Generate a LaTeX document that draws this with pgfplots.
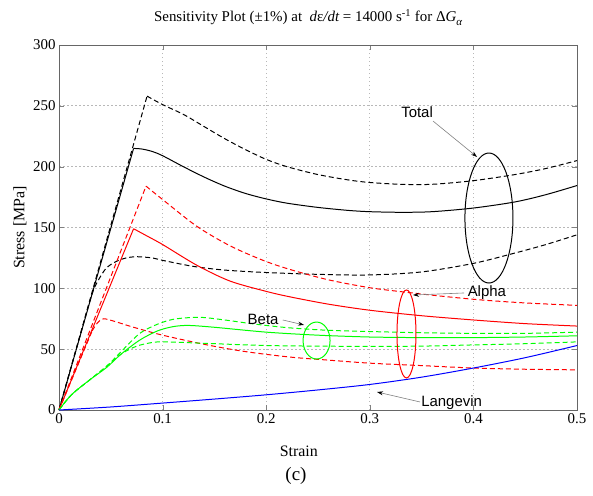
\documentclass[border=0pt]{standalone}
\usepackage{fontspec}
\setmainfont{Liberation Serif}
\newfontfamily\arial{Liberation Sans}
\usepackage{pgfplots}
\pgfplotsset{compat=1.18}
\usetikzlibrary{arrows.meta,calc}
\definecolor{mgreen}{RGB}{0,255,0}
\begin{document}
\begin{tikzpicture}
\begin{axis}[
  name=ax,
  scale only axis,
  width=518bp, height=365bp,
  xmin=0, xmax=0.5, ymin=0, ymax=300,
  xtick={0,0.1,0.2,0.3,0.4,0.5},
  xticklabels={0,0.1,0.2,0.3,0.4,0.5},
  ytick={0,50,100,150,200,250,300},
  /pgf/number format/assume math mode=true,
  tick label style={font=\fontsize{15}{17}\selectfont},
  tick align=inside, major tick length=5bp,
  xmajorgrids=true, ymajorgrids=true,
  major grid style={line width=1pt, black!28, dash pattern=on 1.5bp off 2.5bp},
  axis line style={gray!80!black, line width=0.6pt},
  title={Sensitivity Plot (±1\%) at \ {\itshape d}ε{\itshape /dt} = 14000 s\textsuperscript{-1} for Δ{\itshape G}\raisebox{-4bp}{\fontsize{11}{12}\selectfont\itshape α}},
  title style={at={(0.481,1)}, anchor=south, yshift=10bp, font=\fontsize{15}{17}\selectfont},
  xlabel={Strain},
  xlabel style={at={(axis description cs:0.463,-0.113)}, anchor=center, font=\fontsize{16}{18}\selectfont},
  clip=false,
  every axis plot/.append style={line width=1pt},
]
% Black (Total)
\addplot[black, dash pattern=on 5bp off 3bp] coordinates {(0,0) (0.085,258)};
\addplot[black, dash pattern=on 5bp off 3bp, smooth, tension=0.5] coordinates {(0.085,258) (0.1,251) (0.12,243) (0.14,233) (0.16,223) (0.18,214) (0.2,206) (0.22,200) (0.25,193.5) (0.28,189) (0.3,187) (0.33,185.5) (0.36,185.5) (0.4,188.5) (0.44,193.5) (0.47,198.5) (0.5,205)};
\addplot[black] coordinates {(0,0) (0.072,215)};
\addplot[black, smooth, tension=0.5] coordinates {(0.072,215) (0.08,214.5) (0.09,212.5) (0.1,209) (0.12,200) (0.14,191.5) (0.16,184) (0.18,178) (0.2,173.5) (0.22,170) (0.25,166.5) (0.28,164) (0.3,163) (0.33,162.5) (0.36,163) (0.4,166) (0.44,171) (0.47,177) (0.5,184.5)};
\addplot[black, dash pattern=on 5bp off 3bp, smooth, tension=0.5] coordinates {(0,0) (0.02,60) (0.03,90) (0.035,102) (0.045,116) (0.055,122) (0.065,125) (0.075,126) (0.09,125) (0.1,123) (0.13,118) (0.16,115) (0.2,113) (0.25,111.5) (0.3,111) (0.35,113.5) (0.4,120.5) (0.44,129) (0.47,136) (0.5,144)};
% Red (Alpha)
\addplot[red, dash pattern=on 5bp off 3bp] coordinates {(0,0) (0.084,184)};
\addplot[red, dash pattern=on 5bp off 3bp, smooth, tension=0.5] coordinates {(0.084,184) (0.1,173) (0.133,151) (0.165,135) (0.197,123) (0.223,115.5) (0.26,107) (0.3,100.5) (0.333,97) (0.37,93.5) (0.407,90.5) (0.45,88) (0.5,86)};
\addplot[red] coordinates {(0,0) (0.072,149)};
\addplot[red, smooth, tension=0.5] coordinates {(0.072,149) (0.085,143) (0.1,136) (0.133,119) (0.165,106) (0.2,97.5) (0.223,93) (0.26,87) (0.3,82) (0.35,77.5) (0.4,74) (0.45,71) (0.5,69)};
\addplot[red, dash pattern=on 5bp off 3bp] coordinates {(0,0) (0.032,65)};
\addplot[red, dash pattern=on 5bp off 3bp, smooth, tension=0.5] coordinates {(0.032,65) (0.037,71.5) (0.043,75) (0.055,72.5) (0.07,68.5) (0.1,61.5) (0.143,53.5) (0.18,48) (0.223,43.5) (0.26,41) (0.3,38.5) (0.35,36.5) (0.4,34.5) (0.45,33.5) (0.5,33)};
% Green (Beta)
\addplot[mgreen, dash pattern=on 5bp off 3bp, smooth, tension=0.5] coordinates {(0,0) (0.012,12.5) (0.03,25) (0.046,36) (0.06,48) (0.078,63) (0.095,70.5) (0.11,74.5) (0.127,76) (0.14,76) (0.16,74) (0.19,70.5) (0.223,67.5) (0.26,65.5) (0.3,64.5) (0.35,63.5) (0.4,63) (0.45,63) (0.5,64)};
\addplot[mgreen, smooth, tension=0.5] coordinates {(0,0) (0.012,12.5) (0.03,25) (0.046,35) (0.06,46) (0.078,57.5) (0.095,65) (0.11,68.5) (0.125,69.5) (0.15,68) (0.2,64) (0.25,61.5) (0.3,60) (0.35,59.5) (0.4,59.5) (0.45,60) (0.5,61)};
\addplot[mgreen, dash pattern=on 5bp off 3bp, smooth, tension=0.5] coordinates {(0,0) (0.012,12.5) (0.03,25) (0.046,36) (0.06,46) (0.075,52.5) (0.09,55.5) (0.1,56) (0.12,55.5) (0.15,54.5) (0.2,53) (0.25,52.5) (0.3,52.3) (0.35,52.5) (0.4,53.5) (0.45,54.5) (0.5,56)};
% Blue (Langevin)
\addplot[blue, smooth] coordinates {(0,0) (0.05,2.5) (0.1,5.7) (0.15,9) (0.2,12.5) (0.25,16.5) (0.3,21) (0.35,27) (0.4,34.5) (0.45,43) (0.5,53)};
% Annotations
\draw[black, line width=1pt] (axis cs:0.415,157.8) ellipse [x radius=24bp, y radius=65bp];
\draw[red, line width=1pt] (axis cs:0.3354,62.5) ellipse [x radius=9.5bp, y radius=44bp];
\draw[mgreen, line width=1pt] (axis cs:0.2486,57.1) ellipse [x radius=13.5bp, y radius=18.5bp];
\node[font=\arial\fontsize{15}{17}\selectfont] at (axis cs:0.3456,244.9) {Total};
\node[font=\arial\fontsize{15}{17}\selectfont] at (axis cs:0.413,96.2) {Alpha};
\node[font=\arial\fontsize{15}{17}\selectfont] at (axis cs:0.197,74.8) {Beta};
\node[font=\arial\fontsize{15}{17}\selectfont] at (axis cs:0.379,5.75) {Langevin};
\draw[gray, line width=0.6pt, -{Stealth[black,length=6bp,width=4bp]}] (axis cs:0.361,237.5) -- (axis cs:0.4035,208);
\draw[gray, line width=0.6pt, -{Stealth[black,length=6bp,width=4bp]}] (axis cs:0.391,96.2) -- (axis cs:0.3417,94.5);
\draw[gray, line width=0.6pt, -{Stealth[black,length=6bp,width=4bp]}] (axis cs:0.216,74) -- (axis cs:0.2365,69.9);
\draw[gray, line width=0.6pt, -{Stealth[black,length=6bp,width=4bp]}] (axis cs:0.3485,6.6) -- (axis cs:0.307,14.8);
\node[font=\fontsize{19}{21}\selectfont, inner sep=1pt] at (axis description cs:0.4575,-0.182) {(c)};
\node[font=\fontsize{16}{18}\selectfont, rotate=90, anchor=center] at (axis description cs:-0.0753,0.5) {Stress [MPa]};
\end{axis}
\path ($(ax.south west)+(-59bp,-85bp)$) rectangle ($(ax.north east)+(16bp,45bp)$);
\end{tikzpicture}
\end{document}
